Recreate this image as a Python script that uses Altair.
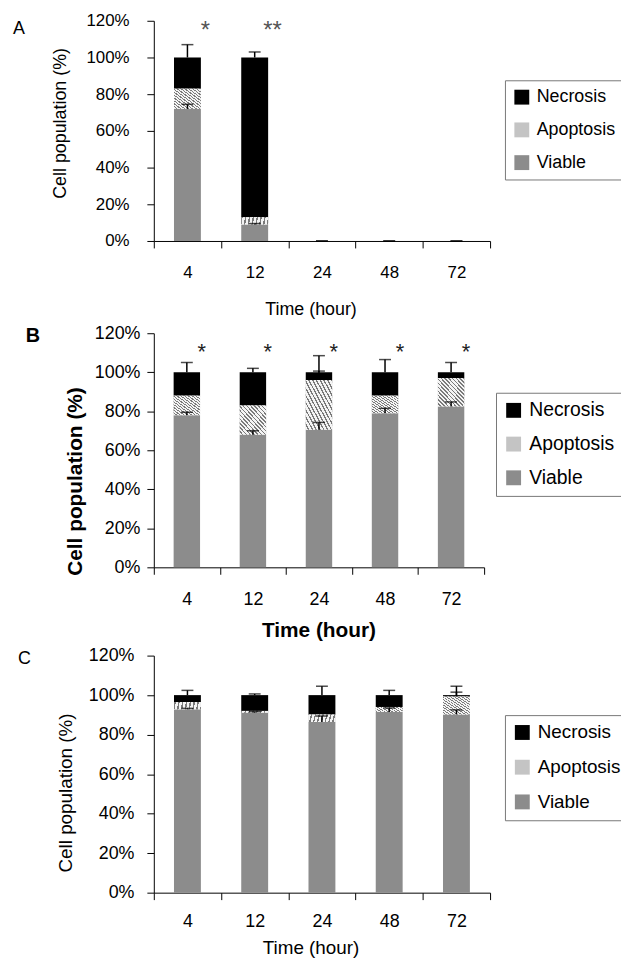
import altair as alt
import pandas as pd

times = ["4", "12", "24", "48", "72"]
statuses = ["Necrosis", "Apoptosis", "Viable"]
status_colors = ["#000000", "#c4c4c4", "#8c8c8c"]

# Panel A
a_viable = [72, 9, 0, 0, 0]
a_apoptosis = [11, 4, 0, 0, 0]
a_necrosis = [17, 87, 0, 0, 0]
a_viable_err = [2.5, 0.5, 0, 0, 0]
a_apoptosis_err = [None, None, None, None, None]
a_necrosis_err = [7, 3, 0, 0, 0]
a_stars = ["*", "**", "", "", ""]

# Panel B
b_viable = [78, 68, 70.5, 79, 82.5]
b_apoptosis = [10, 15, 25.5, 9, 14.5]
b_necrosis = [12, 17, 4, 12, 3]
b_viable_err = [1.5, 2, 3.8, 2.5, 2.3]
b_apoptosis_err = [None, None, 4.6, None, None]
b_necrosis_err = [5, 2, 8.5, 6.5, 5]
b_stars = ["*", "*", "*", "*", "*"]

# Panel C
c_viable = [92.8, 91.1, 86.4, 91.5, 90.2]
c_apoptosis = [3.7, 0.9, 3.8, 2.5, 9.1]
c_necrosis = [3.5, 8.0, 9.8, 6.0, 0.7]
c_viable_err = [0.5, 0.5, 3, 2, 2.3]
c_apoptosis_err = [None, None, None, None, 2.2]
c_necrosis_err = [2.4, 0.6, 4.5, 2.4, 4.5]
c_stars = ["", "", "", "", ""]

FONT = "Liberation Sans"

# diagonal hatch for the apoptosis segments
N_STRIPES = 14
stops = []
for i in range(N_STRIPES):
    s, m, e = i / N_STRIPES, (i + 0.62) / N_STRIPES, (i + 1) / N_STRIPES
    stops += [
        alt.GradientStop(color="#f4f4f4", offset=s),
        alt.GradientStop(color="#f4f4f4", offset=m),
        alt.GradientStop(color="#7a7a7a", offset=m),
        alt.GradientStop(color="#7a7a7a", offset=e),
    ]
hatch_fill = alt.LinearGradient(gradient="linear", stops=stops, x1=0, y1=1, x2=1, y2=0)


def make_panel(letter, viable, apop, necr, v_err, a_err, n_err, stars, st):
    seg_rows, err_rows = [], []
    for i, t in enumerate(times):
        lo = 0
        for name, vals in (("Viable", viable), ("Apoptosis", apop), ("Necrosis", necr)):
            seg_rows.append(dict(time=t, status=name, lower=lo, upper=lo + vals[i]))
            lo += vals[i]
        v, a, n = viable[i], apop[i], necr[i]
        for base, e in ((v, v_err[i]), (v + a, a_err[i]), (v + a + n, n_err[i])):
            if e is not None:
                err_rows.append(dict(time=t, base=base, top=base + e))
    seg = pd.DataFrame(seg_rows)
    err = pd.DataFrame(err_rows)
    star_df = pd.DataFrame(dict(time=times, label=stars))
    letter_df = pd.DataFrame(dict(letter=[letter]))

    xaxis = alt.Axis(
        tickBand="extent", tickSize=7, tickColor="black", domainColor="black",
        labelAngle=0, labelFont=FONT, labelFontSize=st["lab"], labelColor="black",
        labelBaseline="middle", labelPadding=st["xlp"],
        title="Time (hour)", titleFont=FONT, titleFontSize=st["tit"],
        titleFontWeight=st["tw"], titleColor="black", titleBaseline="middle",
        titleX=st["txx"], titleY=st["txy"],
    )
    yaxis = alt.Axis(
        values=[0, 20, 40, 60, 80, 100, 120], labelExpr="datum.value + '%'",
        tickSize=7, tickColor="black", domainColor="black",
        labelFont=FONT, labelFontSize=st["lab"], labelColor="black", labelPadding=st["ylp"],
        title="Cell population (%)", titleFont=FONT, titleFontSize=st["tit"],
        titleFontWeight=st["tw"], titleColor="black", titleAngle=270,
        titleBaseline="middle", titleAlign="center", titleX=st["tyx"], titleY=st["tyy"],
    )
    X = alt.X("time:N", sort=times, scale=alt.Scale(paddingInner=0, paddingOuter=0), axis=xaxis)
    ys = alt.Scale(domain=[0, 120], nice=False)

    bars = alt.Chart(seg).mark_bar(width=alt.RelativeBandSize(0.4)).encode(
        x=X,
        y=alt.Y("lower:Q", scale=ys, axis=yaxis),
        y2="upper:Q",
        color=alt.Color(
            "status:N",
            scale=alt.Scale(domain=statuses, range=status_colors),
            legend=alt.Legend(
                orient="none", legendX=st["lx"], legendY=st["ly"], title=None,
                symbolType="square", symbolSize=225, symbolStrokeWidth=0, symbolOpacity=1,
                labelFont=FONT, labelFontSize=st["leg"], labelColor="black",
                labelOffset=6, rowPadding=st["rp"], padding=st["lp"],
                strokeColor="#777777", fillColor="white",
            ),
        ),
    )
    hatch = alt.Chart(seg).transform_filter(alt.datum.status == "Apoptosis").mark_bar(
        width=alt.RelativeBandSize(0.4), fill=hatch_fill
    ).encode(x=X, y=alt.Y("lower:Q", scale=ys, axis=yaxis), y2="upper:Q")
    stems = alt.Chart(err).mark_rule(color="black", strokeWidth=1.5).encode(
        x=X, y=alt.Y("base:Q", scale=ys, axis=yaxis), y2="top:Q"
    )
    caps = alt.Chart(err).mark_tick(color="black", thickness=1.5, size=12).encode(
        x=X, y=alt.Y("top:Q", scale=ys, axis=yaxis)
    )
    label = alt.Chart(letter_df).mark_text(
        align="left", baseline="middle", font=FONT, fontSize=st["lfs"],
        fontWeight=st["lfw"], color="black"
    ).encode(x=alt.value(st["ldx"]), y=alt.value(st["ldy"]), text="letter:N")
    layers = [bars, hatch, stems, caps, label]
    if any(stars):
        stars_layer = alt.Chart(star_df).transform_filter("datum.label != ''").mark_text(
            dx=st["sdx"], font=FONT, fontSize=st["sfs"], color=st["sc"], baseline="alphabetic"
        ).encode(x=X, y=alt.Y(datum=st["sy"], scale=ys, axis=yaxis), text="label:N")
        layers.append(stars_layer)
    return alt.layer(*layers).properties(width=st["w"], height=st["h"])


pA = make_panel("A", a_viable, a_apoptosis, a_necrosis, a_viable_err, a_apoptosis_err,
                a_necrosis_err, a_stars,
                dict(w=339, h=222, lab=17, tit=18, tw="normal", xlp=25, ylp=18,
                     txx=158, txy=69, tyx=-94, tyy=103, lx=354, ly=60, leg=18, rp=15, lp=8,
                     sdx=18, sfs=24, sc="#555555", sy=110.4, ldx=-142, ldy=8, lfs=18, lfw="normal"))
pB = make_panel("B", b_viable, b_apoptosis, b_necrosis, b_viable_err, b_apoptosis_err,
                b_necrosis_err, b_stars,
                dict(w=333, h=236, lab=18, tit=21, tw="bold", xlp=25, ylp=7,
                     txx=166, txy=64, tyx=-79, tyy=149, lx=345, ly=60, leg=19.5, rp=13, lp=8,
                     sdx=15, sfs=22, sc="#222222", sy=106.7, ldx=-129, ldy=3, lfs=20, lfw="bold"))
pC = make_panel("C", c_viable, c_apoptosis, c_necrosis, c_viable_err, c_apoptosis_err,
                c_necrosis_err, c_stars,
                dict(w=339, h=239, lab=18, tit=19, tw="normal", xlp=22, ylp=13,
                     txx=158, txy=55, tyx=-89, tyy=138, lx=354, ly=60, leg=19, rp=15, lp=8,
                     sdx=15, sfs=22, sc="#222222", sy=106.7, ldx=-137, ldy=3, lfs=18, lfw="normal"))

chart = alt.vconcat(pA, pB, pC, spacing=6).resolve_scale(
    color="independent", x="independent", y="independent"
).resolve_legend(color="independent").properties(
    padding={"left": 5, "top": 0, "right": -9, "bottom": 0}, background="white"
).configure_view(stroke=None).configure_axis(grid=False)

chart.save("out.html", embed_options={"renderer": "svg", "actions": False})
